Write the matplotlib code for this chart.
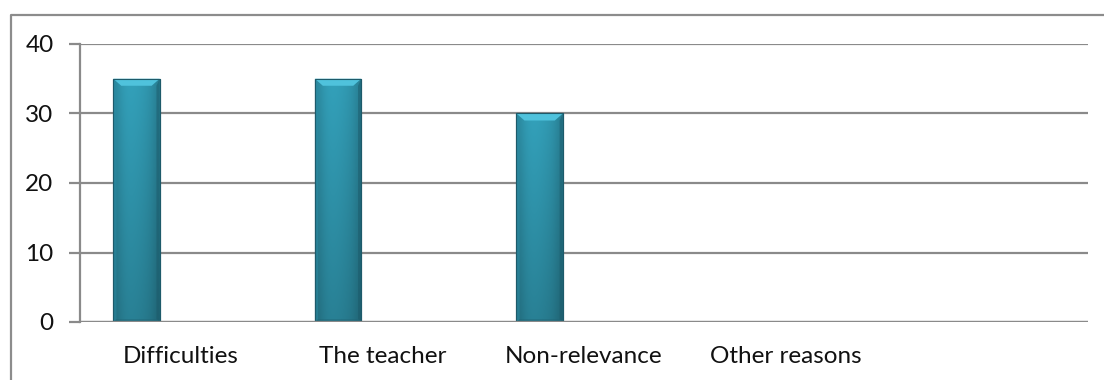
import numpy as np
import matplotlib.pyplot as plt
from matplotlib.lines import Line2D
from matplotlib.patches import Polygon

# Reasons and their percentages
categories = ['Difficulties', 'The teacher', 'Non-relevance', 'Other reasons', '']
values = [35, 35, 30, 0, 0]
y_ticks = [0, 10, 20, 30, 40]

plt.rcParams['font.family'] = ['Lato', 'DejaVu Sans']

fig = plt.figure(figsize=(11.04, 3.80), dpi=100)
fig.patch.set_facecolor('white')
ax = fig.add_axes([80 / 1104, 1 - 322 / 380, 1008 / 1104, 278 / 380])

x = np.arange(len(categories))
bar_w = 0.23
bars = ax.bar(x - 0.22, values, width=bar_w, color='#2e8fa8',
              edgecolor='#1d5a6a', linewidth=0.8, zorder=3)

ax.set_xlim(-0.5, len(categories) - 0.5)
ax.set_ylim(0, 40)
ax.set_yticks(y_ticks)
ax.set_xticks(x)
ax.set_xticklabels(categories)

grid_c = '#8a8a8a'
ax.yaxis.grid(True, color=grid_c, linewidth=1.6, zorder=1)
ax.xaxis.grid(False)
for side in ['top', 'right', 'bottom']:
    ax.spines[side].set_visible(False)
ax.spines['left'].set_color(grid_c)
ax.spines['left'].set_linewidth(1.6)
ax.axhline(0, color=grid_c, linewidth=1.6, zorder=4)

ax.tick_params(axis='y', length=8, width=1.6, color=grid_c, pad=11,
               labelsize=17.5, labelcolor='#111111')
ax.tick_params(axis='x', length=0, pad=17, labelsize=17.5, labelcolor='#111111')

# Bevelled, shaded look for each bar
fig.canvas.draw()
inv = ax.transData.inverted()
px_x = abs(inv.transform((8, 0))[0] - inv.transform((0, 0))[0])
px_y = abs(inv.transform((0, 7))[1] - inv.transform((0, 0))[1])

h_grad = np.array([0.85, 0.95, 1.0, 1.0, 0.98, 0.95, 0.9, 0.8])
v_grad = np.linspace(1.0, 0.8, 64)[:, None]
base = np.array([0.2, 0.63, 0.73])
shade = v_grad[:, :, None] * h_grad[None, :, None] * base[None, None, :]

for b in bars:
    h = b.get_height()
    if h <= 0:
        continue
    x0, w = b.get_x(), b.get_width()
    im = ax.imshow(np.clip(shade, 0, 1), extent=(x0, x0 + w, 0, h),
                   aspect='auto', zorder=3.5, interpolation='bicubic')
    im.set_clip_path(b)
    top = Polygon([(x0, h), (x0 + w, h), (x0 + w - px_x, h - px_y),
                   (x0 + px_x, h - px_y)], closed=True,
                  facecolor='#4fc2dc', edgecolor='none', zorder=3.6)
    ax.add_patch(top)
    left = Polygon([(x0, h), (x0 + px_x * 0.4, h - px_y), (x0 + px_x * 0.4, px_y * 0.4),
                    (x0, 0)], closed=True, facecolor='#2a8aa2', edgecolor='none',
                   alpha=0.5, zorder=3.6)
    right = Polygon([(x0 + w, h), (x0 + w - px_x * 0.4, h - px_y),
                     (x0 + w - px_x * 0.4, px_y * 0.4), (x0 + w, 0)], closed=True,
                    facecolor='#1b5767', edgecolor='none', alpha=0.45, zorder=3.6)
    bottom = Polygon([(x0, 0), (x0 + w, 0), (x0 + w - px_x * 0.4, px_y * 0.4),
                      (x0 + px_x * 0.4, px_y * 0.4)], closed=True,
                     facecolor='#1f6475', edgecolor='none', alpha=0.5, zorder=3.6)
    for p in (left, right, bottom):
        ax.add_patch(p)
    ax.add_patch(Polygon([(x0, h), (x0 + w, h), (x0 + w, 0), (x0, 0)], closed=True,
                         facecolor='none', edgecolor='#1d5a6a', linewidth=0.8,
                         zorder=3.7))

# Chart frame, cut by the right and bottom edges of the image
fig.add_artist(Line2D([11 / 1104, 11 / 1104, 1.0], [0.0, 1 - 15 / 380, 1 - 15 / 380],
                      transform=fig.transFigure, color='#8c8c8c', linewidth=1.6))

fig.savefig('out.png', dpi=100, facecolor='white')
